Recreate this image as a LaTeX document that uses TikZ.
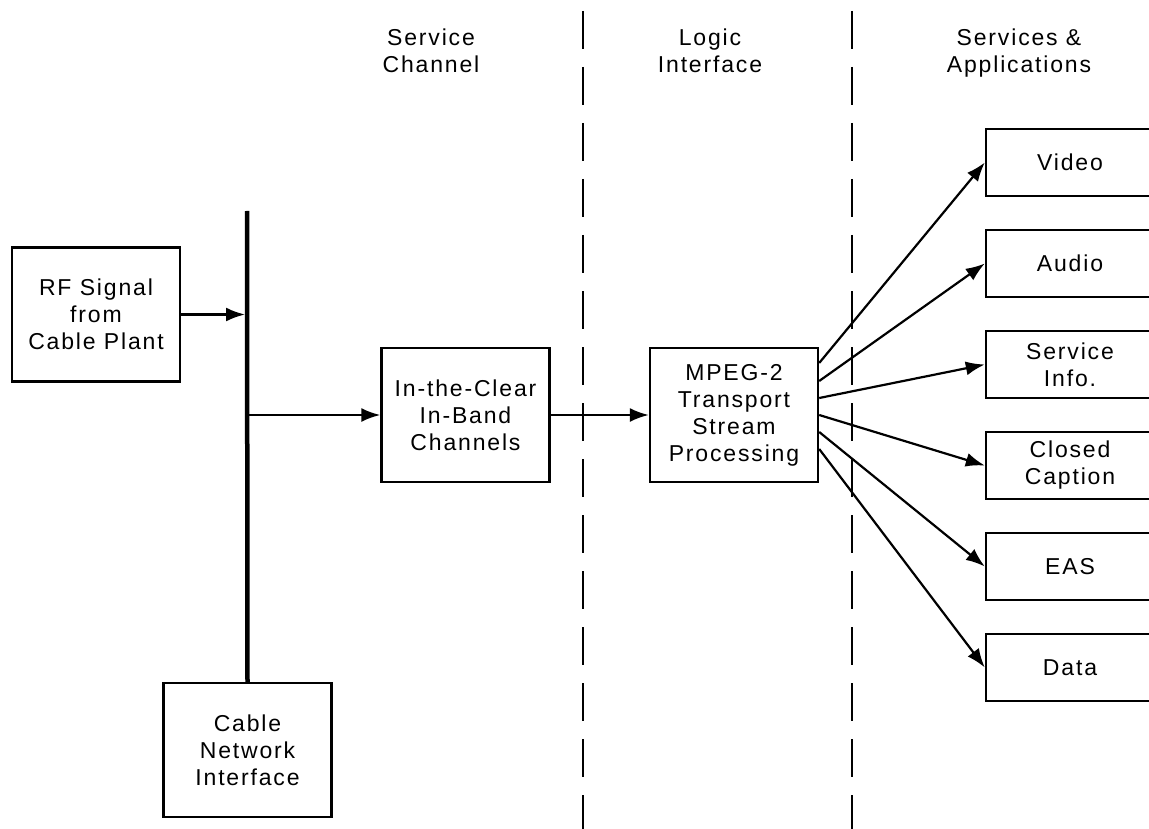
\documentclass[tikz,border=0pt]{standalone}
\usepackage{fontspec}
\setmainfont{Liberation Sans}[LetterSpace=8]
\usetikzlibrary{arrows.meta}
\tikzstyle{block} = [rectangle, draw, line width=2.4pt, minimum width=168pt,
      minimum height=134pt, align=center, inner sep=0pt]
\tikzstyle{outlet} = [rectangle, draw, line width=2.4pt, minimum width=168pt,
      minimum height=67pt, align=center, inner sep=0pt]
\tikzstyle{line} = [draw, line width=2.2pt, -{Latex[length=19pt,width=14pt]}]
\tikzstyle{bus} = [draw, line width=4.5pt]
\tikzstyle{divider} = [draw, line width=2.2pt, dash pattern=on 38pt off 18pt]
\tikzstyle{heading} = [align=center]

\begin{document}
\begin{tikzpicture}[x=1pt, y=-1pt, node distance=101pt, font=\fontsize{23}{27}\selectfont]
	  \useasboundingbox (0,0) rectangle (1149,829);
	  % Nodes
	  \node [block] (rf) at (96,314.5) {RF Signal\\from\\Cable Plant};
	  \node [block] (cni) at (247.5,750) {Cable\\Network\\Interface};
	  \node [block] (clear) at (465.5,415) {In-the-Clear\\In-Band\\Channels};
	  \node [block] (mpeg) at (734,415) {MPEG-2\\Transport\\Stream\\Processing};
	  \node [outlet] (video) at (1070,162.5) {Video};
	  \node [outlet, below of=video] (audio) {Audio};
	  \node [outlet, below of=audio] (info) {Service\\Info.};
	  \node [outlet, below of=info] (caption) {Closed\\Caption};
	  \node [outlet, below of=caption] (eas) {EAS};
	  \node [outlet, below of=eas] (data) {Data};
	  \coordinate (bustop) at (247,211);
	  %Cabeceras
	  \node [heading] (hchannel) at (431,51) {Service\\Channel};
	  \node [heading] (hlogic) at (710,51) {Logic\\Interface};
	  \node [heading] (hservices) at (1019,53) {Services \&\\Applications};
	  \path [divider] (583,11) -- (583,829);
	  \path [divider] (852,11) -- (852,829);
	  %Entrada
	  \path [bus] (bustop) -- (cni.north);
	  \path [line, shorten >=2pt] (rf.east) -- (rf.east -| bustop);
	  \path [line] (clear.west -| bustop) -- (clear.west);
	  \path [line] (clear.east) -- (mpeg.west);
	  %Salidas
	  \path [line] ([yshift=52pt]mpeg.east) -- (video.west);
	  \path [line] ([yshift=34pt]mpeg.east) -- (audio.west);
	  \path [line] ([yshift=17pt]mpeg.east) -- (info.west);
	  \path [line] (mpeg.east) -- (caption.west);
	  \path [line] ([yshift=-17pt]mpeg.east) -- (eas.west);
	  \path [line] ([yshift=-34pt]mpeg.east) -- (data.west);
\end{tikzpicture}
\end{document}
